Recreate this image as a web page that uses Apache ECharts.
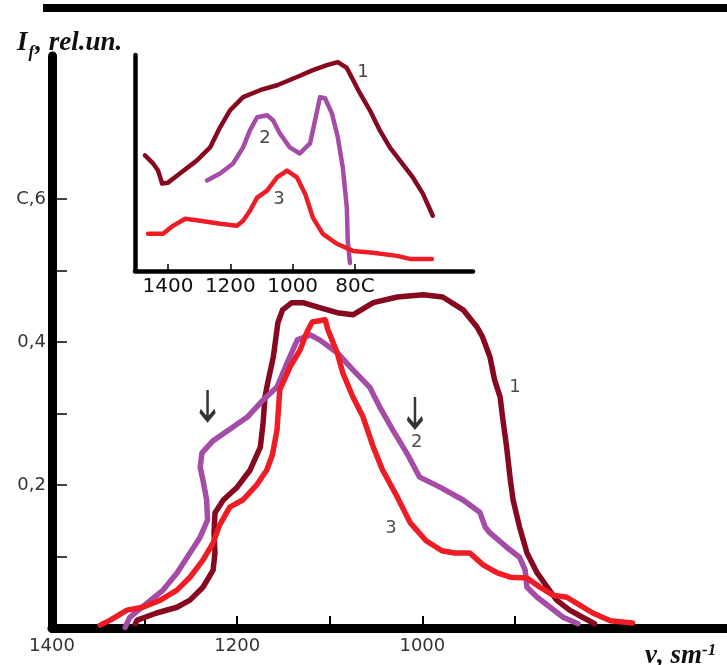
<!DOCTYPE html>
<html>
<head>
<meta charset="utf-8">
<script src="https://cdn.jsdelivr.net/npm/echarts@6/dist/echarts.min.js"></script>
<style>html,body{margin:0;padding:0;background:#fff}#c{width:727px;height:665px}</style>
</head>
<body>
<div id="c"></div>
<script>
// ---------- main plot data: [wavenumber, I_f] ----------
const curve1 = [[1310,0.006],[1308,0.011],[1287,0.021],[1265,0.029],[1251,0.039],[1237,0.057],[1226,0.081],[1224,0.105],[1225,0.133],[1224,0.161],[1215,0.179],[1200,0.197],[1186,0.221],[1175,0.253],[1172,0.287],[1170,0.323],[1167,0.343],[1161,0.379],[1156,0.427],[1151,0.445],[1141,0.455],[1129,0.455],[1111,0.448],[1092,0.441],[1075,0.438],[1053,0.455],[1027,0.463],[999,0.466],[978,0.463],[956,0.445],[941,0.421],[935,0.407],[927,0.379],[922,0.347],[916,0.323],[913,0.291],[909,0.253],[905,0.207],[902,0.179],[895,0.141],[887,0.105],[876,0.077],[865,0.057],[855,0.039],[841,0.025],[827,0.015],[814,0.006]];
const curve2 = [[1321,0.001],[1316,0.015],[1297,0.035],[1280,0.053],[1265,0.077],[1251,0.105],[1240,0.127],[1232,0.151],[1233,0.179],[1237,0.207],[1240,0.225],[1238,0.245],[1226,0.262],[1208,0.278],[1189,0.295],[1172,0.319],[1157,0.337],[1146,0.371],[1135,0.403],[1121,0.410],[1111,0.403],[1092,0.385],[1075,0.361],[1057,0.337],[1046,0.309],[1032,0.277],[1017,0.245],[1003,0.211],[981,0.197],[956,0.179],[938,0.162],[932,0.141],[927,0.133],[909,0.113],[895,0.099],[889,0.081],[887,0.057],[876,0.043],[862,0.029],[848,0.015],[832,0.006]];
const curve3 = [[1348,0.004],[1337,0.011],[1319,0.025],[1302,0.029],[1283,0.039],[1265,0.053],[1251,0.071],[1237,0.095],[1226,0.119],[1219,0.144],[1208,0.169],[1194,0.179],[1179,0.200],[1168,0.221],[1162,0.242],[1157,0.277],[1154,0.333],[1143,0.365],[1132,0.389],[1125,0.413],[1119,0.428],[1105,0.431],[1102,0.417],[1092,0.385],[1086,0.357],[1075,0.323],[1064,0.295],[1053,0.253],[1043,0.221],[1027,0.183],[1013,0.147],[996,0.122],[979,0.108],[965,0.105],[949,0.105],[934,0.088],[919,0.077],[905,0.071],[887,0.070],[873,0.057],[859,0.046],[844,0.043],[830,0.032],[816,0.021],[797,0.010],[773,0.007]];

// ---------- inset data: [wavenumber, relative] ----------
const inset1 = [[1474,0.535],[1448,0.498],[1432,0.465],[1419,0.405],[1400,0.409],[1362,0.451],[1307,0.512],[1265,0.572],[1233,0.665],[1201,0.744],[1159,0.805],[1105,0.837],[1050,0.860],[986,0.898],[935,0.930],[890,0.953],[855,0.967],[826,0.940],[806,0.884],[784,0.823],[752,0.744],[720,0.651],[688,0.572],[656,0.512],[614,0.433],[582,0.358],[550,0.256]];
const inset2 = [[1275,0.419],[1233,0.451],[1191,0.498],[1159,0.572],[1137,0.651],[1114,0.712],[1082,0.721],[1063,0.698],[1041,0.637],[1009,0.572],[977,0.544],[944,0.591],[928,0.698],[912,0.805],[896,0.800],[874,0.730],[855,0.619],[839,0.479],[826,0.293],[823,0.140],[816,0.037]];
const inset3 = [[1464,0.172],[1416,0.172],[1384,0.209],[1345,0.242],[1297,0.233],[1233,0.219],[1179,0.209],[1159,0.233],[1137,0.279],[1114,0.340],[1082,0.372],[1050,0.433],[1018,0.465],[986,0.433],[960,0.358],[935,0.247],[903,0.172],[858,0.126],[806,0.093],[742,0.084],[665,0.070],[624,0.056],[553,0.056]];

// ---------- ticks & labels ----------
const mainXTicks = [1300,1200,1100,1000,900];
const mainXLabels = [1400,1200,1000];
const mainYTicks = [0.1,0.2,0.3,0.4,0.5,0.6];
const mainYLabels = [0.2,0.4,0.6];
const mainYLabelText = {"0.2":"0,2","0.4":"0,4","0.6":"C,6"};
const insetXTicks = [1400,1200,1000,800];
const insetXLabelText = {"1400":"1400","1200":"1200","1000":"1000","800":"80C"};

// curve number annotations and arrows
const mainNumbers = [[900,0.337,"1"],[1006,0.260,"2"],[1034,0.140,"3"]];
const insetNumbers = [[774,0.921,"1"],[1089,0.614,"2"],[1044,0.330,"3"]];
const arrows = [[1232,0.312],[1008,0.302]];

// wavenumber axes run from high (left) to low (right): plot on a negated scale
const flip = d => [-d[0], d[1]];
const neg = v => -v;

const C1 = '#86091f', C2 = '#a44ca6', C3 = '#ee1c25';

const chart = echarts.init(document.getElementById('c'), null, {renderer:'canvas'});
const lblFont = {fontFamily:'DejaVu Sans', color:'#333'};

chart.setOption({
  animation:false,
  backgroundColor:'#fff',
  title:[
    {left:12, top:22, text:'{i|I}{s|f}{i|, rel.un.}',
     textStyle:{rich:{i:{fontFamily:'Liberation Serif',fontStyle:'italic',fontSize:27,color:'#111',lineHeight:30,verticalAlign:'bottom'},
                      s:{fontFamily:'Liberation Serif',fontStyle:'italic',fontSize:17,color:'#111',lineHeight:30,verticalAlign:'bottom',padding:[0,1,-4,1]}}}},
    {left:640, top:637, text:'{i|ν, sm}{s|-1}',
     textStyle:{rich:{i:{fontFamily:'Liberation Serif',fontStyle:'italic',fontSize:27,color:'#111',lineHeight:28,verticalAlign:'bottom'},
                      s:{fontFamily:'Liberation Serif',fontStyle:'italic',fontSize:17,color:'#111',lineHeight:28,verticalAlign:'top'}}}}
  ],
  graphic:[
    {type:'line', shape:{x1:43,y1:8,x2:727,y2:8}, style:{stroke:'#000',lineWidth:8}, silent:true}
  ],
  grid:[
    {left:52, right:0, top:56, bottom:37},
    {left:135, top:55, width:338, height:216}
  ],
  xAxis:[
    {gridIndex:0, type:'value', min:-1400, max:-671,
     axisLine:{show:true, onZero:false, lineStyle:{color:'#000', width:9}},
     axisTick:{show:true, inside:true, length:12, customValues:mainXTicks.map(neg), lineStyle:{color:'#000', width:2}},
     axisLabel:{show:true, margin:9, fontSize:18, customValues:mainXLabels.map(neg), formatter:v=>String(-v), ...lblFont},
     splitLine:{show:false}},
    {gridIndex:1, type:'value', min:-1506, max:-421,
     axisLine:{show:true, onZero:false, lineStyle:{color:'#000', width:4.5}},
     axisTick:{show:true, inside:true, length:7, customValues:insetXTicks.map(neg), lineStyle:{color:'#000', width:1.5}},
     axisLabel:{show:true, margin:6, fontSize:20, customValues:insetXTicks.map(neg), formatter:v=>insetXLabelText[String(-v)], fontFamily:'DejaVu Sans', color:'#111'},
     splitLine:{show:false}}
  ],
  yAxis:[
    {gridIndex:0, type:'value', min:0, max:0.8,
     axisLine:{show:true, onZero:false, lineStyle:{color:'#000', width:9}},
     axisTick:{show:true, inside:true, length:15, customValues:mainYTicks, lineStyle:{color:'#000', width:1.5}},
     axisLabel:{show:true, margin:6, fontSize:18, customValues:mainYLabels, formatter:v=>mainYLabelText[String(v)], ...lblFont},
     splitLine:{show:false}},
    {gridIndex:1, type:'value', min:0, max:1,
     axisLine:{show:true, onZero:false, lineStyle:{color:'#000', width:4.5}},
     axisTick:{show:false}, axisLabel:{show:false}, splitLine:{show:false}}
  ],
  series:[
    {type:'line', xAxisIndex:0, yAxisIndex:0, data:curve1.map(flip), showSymbol:false, symbol:'none', lineStyle:{color:C1,width:5.5,join:'round',cap:'round'}, z:3},
    {type:'line', xAxisIndex:0, yAxisIndex:0, data:curve2.map(flip), showSymbol:false, symbol:'none', lineStyle:{color:C2,width:5.5,join:'round',cap:'round'}, z:4},
    {type:'line', xAxisIndex:0, yAxisIndex:0, data:curve3.map(flip), showSymbol:false, symbol:'none', lineStyle:{color:C3,width:5.5,join:'round',cap:'round'}, z:5},
    {type:'line', xAxisIndex:1, yAxisIndex:1, data:inset1.map(flip), showSymbol:false, symbol:'none', lineStyle:{color:C1,width:4.5,join:'round',cap:'round'}},
    {type:'line', xAxisIndex:1, yAxisIndex:1, data:inset2.map(flip), showSymbol:false, symbol:'none', lineStyle:{color:C2,width:4.5,join:'round',cap:'round'}},
    {type:'line', xAxisIndex:1, yAxisIndex:1, data:inset3.map(flip), showSymbol:false, symbol:'none', lineStyle:{color:C3,width:4.5,join:'round',cap:'round'}},
    {type:'scatter', xAxisIndex:0, yAxisIndex:0, symbolSize:1, itemStyle:{color:'transparent'}, silent:true, z:6,
     data:mainNumbers.map(d=>({value:[-d[0],d[1]], name:d[2]})),
     label:{show:true, position:'inside', formatter:p=>p.name, fontFamily:'DejaVu Sans', fontSize:18, color:'#222'}},
    {type:'scatter', xAxisIndex:1, yAxisIndex:1, symbolSize:1, itemStyle:{color:'transparent'}, silent:true, z:6,
     data:insetNumbers.map(d=>({value:[-d[0],d[1]], name:d[2]})),
     label:{show:true, position:'inside', formatter:p=>p.name, fontFamily:'DejaVu Sans', fontSize:18, color:'#111'}},
    {type:'scatter', xAxisIndex:0, yAxisIndex:0, silent:true, z:6,
     symbol:'path://M8,0 L8,30 M1,21 L8,30 L15,21', symbolSize:[15,30],
     itemStyle:{color:'transparent', borderColor:'#000', borderWidth:3.5},
     data:arrows.map(flip)}
  ]
});
</script>
</body>
</html>
